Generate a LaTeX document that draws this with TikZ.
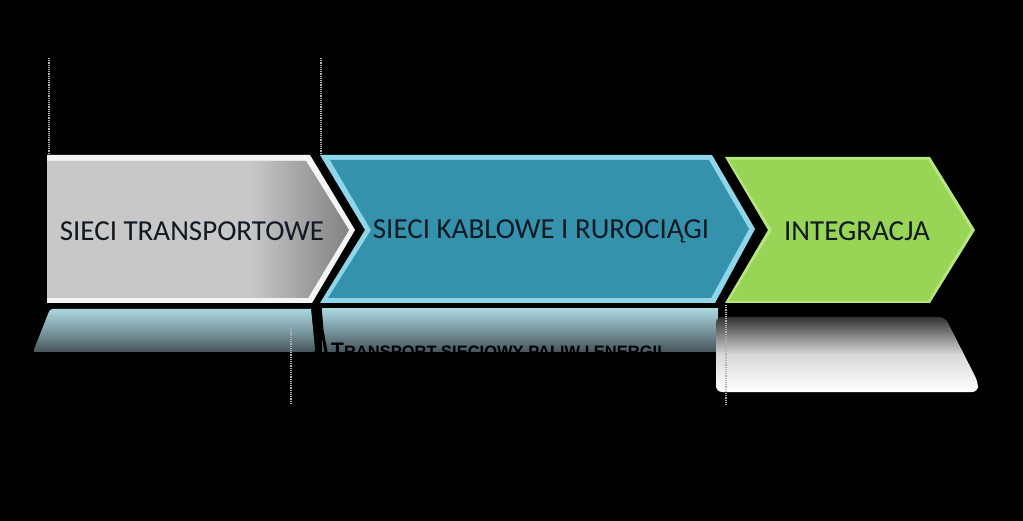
\documentclass[tikz,border=0pt]{standalone}
\usepackage{fontspec}
\setmainfont{Carlito}
\newfontfamily\capsfont{Liberation Sans}
\definecolor{grayfill}{HTML}{C8C8C8}
\definecolor{grayhi}{HTML}{F4F4F4}
\definecolor{bluefill}{HTML}{3592AC}
\definecolor{bluehi}{HTML}{8FD6EA}
\definecolor{greenfill}{HTML}{98D455}
\definecolor{greenhi}{HTML}{B8E67E}
\definecolor{textdark}{HTML}{111A22}
\definecolor{dotgray}{HTML}{B0B0B0}
\definecolor{refltop}{HTML}{A9D6E0}
\definecolor{reflbot}{HTML}{46545A}
\tikzset{
  chevtext/.style={font=\fontsize{29}{32}\selectfont, text=textdark, inner sep=0pt},
  guide/.style={draw=dotgray, line width=1.3pt, dash pattern=on 1.2pt off 1pt},
  refltext/.style={font=\capsfont\bfseries, text=black, inner sep=0pt, anchor=base west},
}
\begin{document}
\begin{tikzpicture}[x=1pt,y=-1pt]
\fill[black] (0,0) rectangle (1023,521);
\useasboundingbox (0,0) rectangle (1023,521);

% dotted guide lines
\coordinate (g1a) at (49,58);  \coordinate (g1b) at (49,154);
\coordinate (g2a) at (321,58); \coordinate (g2b) at (321,154);
\coordinate (g3a) at (291,328); \coordinate (g3b) at (291,405);
\coordinate (g4a) at (726,305); \coordinate (g4b) at (726,405);

% ---------- reflections ----------
\shade[top color=refltop, bottom color=reflbot, middle color=refltop!55!reflbot]
  (50,309) -- (311,309) -- (315,349) [rounded corners=2pt]-- (315,352) -- (33,352) -- cycle;
\shade[top color=refltop, bottom color=reflbot, middle color=refltop!50!reflbot]
  (322,309) -- (718,309) -- (718,352) -- (322,352) -- cycle;
\draw[black, line width=3pt] (320,306) -- (322,330) -- (326,352);
\shade[top color=black!80, bottom color=white, middle color=white!85!black]
  [rounded corners=6pt] (716,317) -- (945,317) -- (978,382) -- (978,392) -- (716,392) -- cycle;

% cropped reflection caption
\begin{scope}
  \clip (322,300) rectangle (718,352.5);
  \node[refltext] (cap) at (331,358)
    {\fontsize{21}{22}\selectfont T\fontsize{16.5}{18}\selectfont RANSPORT SIECIOWY PALIW I ENERGII};
\end{scope}

% ---------- chevrons ----------
% gray
\fill[grayhi] (47,155) -- (310,155) -- (355,230) -- (312,303) -- (47,303) -- cycle;
\fill[grayfill] (47,161) -- (306,161) -- (349,230) -- (308,298) -- (47,298) -- cycle;
\shade[left color=grayfill, right color=grayfill!65!black]
  (250,161) -- (306,161) -- (349,230) -- (308,298) -- (250,298) -- cycle;
\node[chevtext] (t1) at (192,231) {SIECI TRANSPORTOWE};

% blue
\fill[bluehi] (320,155) -- (712,155) -- (755,229) -- (715,303) -- (320,303) -- (365,230) -- cycle;
\fill[bluefill] (330,160) -- (709,160) -- (749,229) -- (711,298) -- (328,298) -- (371,230) -- cycle;
\node[chevtext] (t2) at (541,231) {SIECI KABLOWE I RUROCIĄGI};

% green
\fill[greenhi] (725,157) -- (930,157) -- (975,230) -- (930,303) -- (725,303) -- (768,230) -- cycle;
\fill[greenfill] (729,160) -- (928,160) -- (971,230) -- (928,301) -- (729,301) -- (772,230) -- cycle;
\node[chevtext] (t3) at (857,231) {INTEGRACJA};

% guides on top
\draw[guide] (g1a) -- (g1b);
\draw[guide] (g2a) -- (g2b);
\draw[guide] (g3a) -- (g3b);
\draw[guide] (g4a) -- (g4b);
\end{tikzpicture}
\end{document}
